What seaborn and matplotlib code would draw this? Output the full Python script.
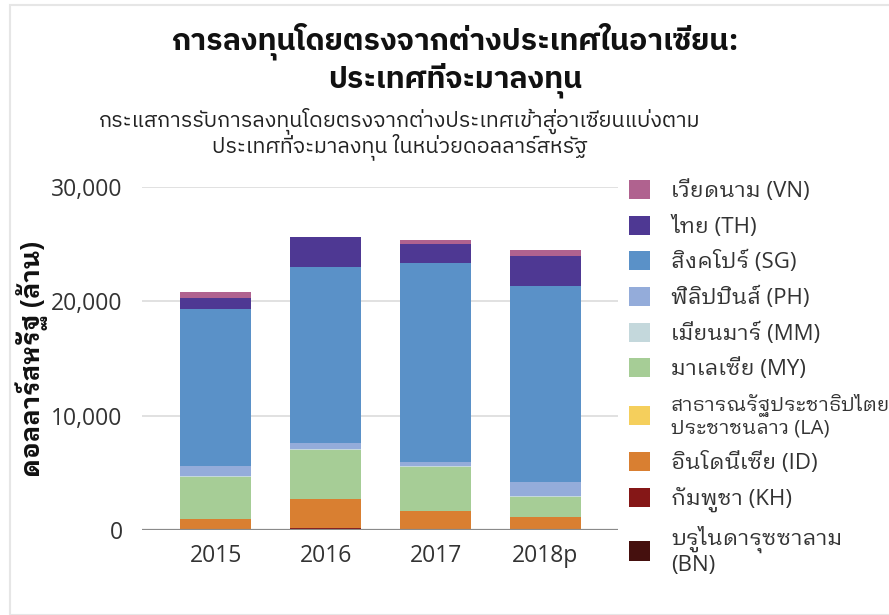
import matplotlib
matplotlib.use("Agg")
import matplotlib.pyplot as plt
from matplotlib.patches import Patch, Rectangle
import seaborn as sns
import numpy as np

# ---- data (USD million) ----
years = ["2015", "2016", "2017", "2018p"]
BN = [0, 130, 0, 0]
KH = [10, 20, 10, 10]
ID = [920, 2550, 1680, 1150]
LA = [10, 10, 10, 10]
MY = [3720, 4330, 3800, 1740]
MM = [40, 30, 70, 50]
PH = [920, 500, 340, 1265]
SG = [13720, 15400, 17470, 17090]
TH = [960, 2620, 1630, 2680]
VN = [520, 80, 350, 490]

series_names = ["บรูไนดารุซซาลาม\n(BN)", "กัมพูชา (KH)", "อินโดนีเซีย (ID)",
                "สาธารณรัฐประชาธิปไตย\nประชาชนลาว (LA)", "มาเลเซีย (MY)",
                "เมียนมาร์ (MM)", "ฟิลิปปินส์ (PH)", "สิงคโปร์ (SG)", "ไทย (TH)",
                "เวียดนาม (VN)"]
series_vals = [BN, KH, ID, LA, MY, MM, PH, SG, TH, VN]
colors = ["#45100e", "#851717", "#d97f31", "#f5cf5c", "#a6cd96",
          "#c4d8dc", "#94acda", "#5a91c8", "#4e3893", "#b0628f"]

title_lines = ["การลงทุนโดยตรงจากต่างประเทศในอาเซียน:", "ประเทศที่จะมาลงทุน"]
subtitle_lines = ["กระแสการรับการลงทุนโดยตรงจากต่างประเทศเข้าสู่อาเซียนแบ่งตาม",
                  "ประเทศที่จะมาลงทุน ในหน่วยดอลลาร์สหรัฐ"]
ylabel = "ดอลลาร์สหรัฐ (ล้าน)"
yticks = [0, 10000, 20000, 30000]
ytick_labels = ["0", "10,000", "20,000", "30,000"]

sns.set_theme(style="white")
LOOPED = ["Open Sans", "IBM Plex Sans Thai Looped", "Noto Sans Thai", "DejaVu Sans"]
LOOPLESS = ["IBM Plex Sans Thai", "Noto Sans Thai", "DejaVu Sans"]
plt.rcParams["font.family"] = LOOPED

fig = plt.figure(figsize=(8.89, 6.15), dpi=100)
ax = fig.add_axes([142/889, 1-530/615, 476/889, 343/615])

bottom = np.zeros(len(years))
for name, vals, c in zip(series_names, series_vals, colors):
    sns.barplot(x=years, y=vals, bottom=bottom, color=c, saturation=1,
                width=0.645, ax=ax, linewidth=0, edgecolor="none")
    bottom = bottom + np.array(vals)

ax.set_xlim(-0.67, 3.66)
ax.set_ylim(0, 30000)
ax.set_yticks(yticks)
ax.set_yticklabels(ytick_labels, fontsize=16.5, color="#333333")
ax.tick_params(axis="y", length=0, pad=14)
ax.tick_params(axis="x", length=0, pad=10, labelcolor="#333333")
for lab in ax.get_xticklabels():
    lab.set_fontsize(16.5)
ax.set_xlabel("")
ax.set_ylabel("")
for s in ax.spines.values():
    s.set_visible(False)
ax.set_axisbelow(True)
ax.grid(axis="y", color="#dcdcdc", linewidth=1.2)
ax.axhline(0, color="#8a8a8a", linewidth=1.6, zorder=5)

fig.text(32/889, 1-359/615, ylabel, rotation=90, ha="center", va="center",
         fontsize=18.5, fontweight="bold", color="#111111")

for txt, y in zip(title_lines, [41, 80]):
    fig.text(455/889, 1-y/615, txt, ha="center", va="center", fontsize=21.8,
             fontweight="bold", family=LOOPLESS, color="#111111")
for txt, y in zip(subtitle_lines, [121, 147]):
    fig.text(400/889, 1-y/615, txt, ha="center", va="center", fontsize=15.5,
             family=LOOPLESS, color="#222222")

handles = [Patch(facecolor=c, edgecolor="none") for c in colors][::-1]
labels = series_names[::-1]
leg = fig.legend(handles, labels, loc="upper left", bbox_to_anchor=(629/889, 1-180/615),
                 frameon=False, fontsize=16, handlelength=0.95, handleheight=0.95,
                 handletextpad=0.95, labelspacing=0.6, borderaxespad=0,
                 borderpad=0)
for t in leg.get_texts():
    t.set_color("#333333")
    t.set_linespacing(1.1)
leg.get_texts()[6].set_fontsize(14.5)

fig.patches.append(Rectangle((10/889, 0), 1, 1-5/615, transform=fig.transFigure,
                             fill=False, edgecolor="#e6e6e6", linewidth=1.5))
fig.savefig("out.png", dpi=100)
